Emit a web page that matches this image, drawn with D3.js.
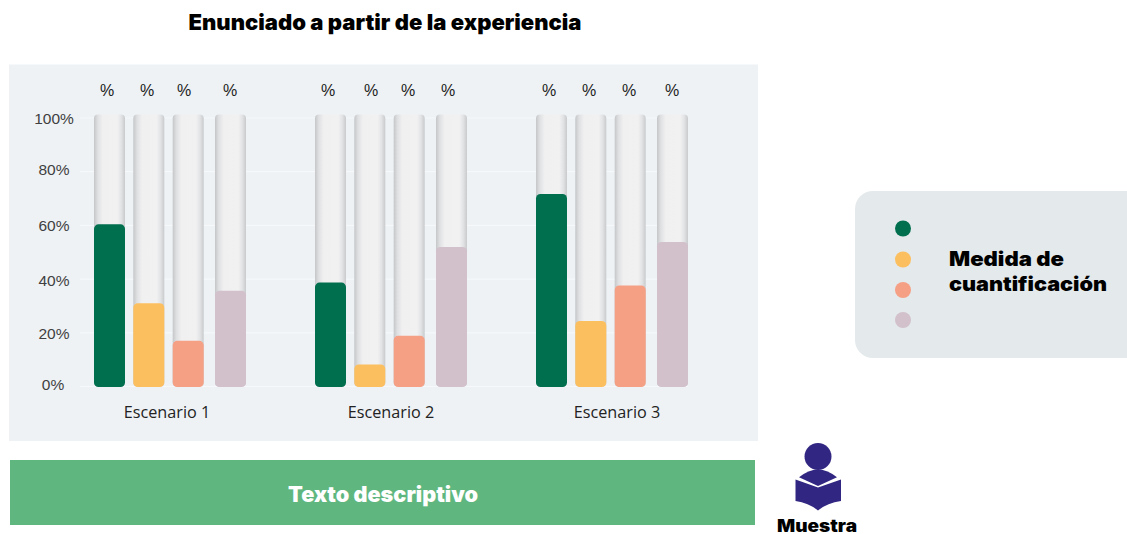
<!DOCTYPE html>
<html><head><meta charset="utf-8">
<script src="https://cdn.jsdelivr.net/npm/d3@7"></script>
<style>html,body{margin:0;padding:0;background:#fff}svg{display:block}</style>
</head><body><svg id="c" width="1127" height="534"></svg>
<script>
const title = "Enunciado a partir de la experiencia";
const scenarios = ["Escenario 1","Escenario 2","Escenario 3"];
const series = ["a","b","c","d"];
const colors = ["#006f4e","#fcbf5f","#f59f85","#d2c0cb"];
const valuesA = [60.4,31,17,35.7];
const valuesB = [38.7,8.2,18.9,52];
const valuesC = [71.7,24.4,37.6,53.8];
const yTicks = [0,20,40,60,80,100];
const labelCaption = ["Medida de","cuantificación"];
const banner = "Texto descriptivo";
const sampleLabel = "Muestra";
const table = [valuesA,valuesB,valuesC];

const svg = d3.select("#c");
const heavy = "'Inter','Noto Sans',sans-serif";
const defs = svg.append("defs");
const g = defs.append("linearGradient").attr("id","track");
[[0,"#c4c6c8"],[.12,"#dfe0e2"],[.28,"#f0f0f1"],[.75,"#f1f1f2"],[.88,"#e2e3e5"],[1,"#c8cacc"]]
 .forEach(s=>g.append("stop").attr("offset",s[0]).attr("stop-color",s[1]));

svg.append("rect").attr("x",9).attr("y",64.5).attr("width",749).attr("height",376.5).attr("fill","#eef2f5");

const y = d3.scaleLinear().domain([0,100]).range([386.5,118]);
const groupX = d3.scalePoint().domain(scenarios).range([94,536]);
const labelX = d3.scalePoint().domain(scenarios).range([167,617]);
const barOffset = d3.scaleOrdinal().domain(series).range([0,39.3,78.7,121]);
const tickNudge = d3.scaleOrdinal().domain(yTicks).range([3.5,6.5,6.5,6,3.5,5.5]);
const pctOffsets = [
  d3.scaleOrdinal().domain(series).range([13,53,90,136]),
  d3.scaleOrdinal().domain(series).range([13,56,93,133]),
  d3.scaleOrdinal().domain(series).range([13,53,93,136])
];
const barW = 31;

// gridlines
svg.append("g").selectAll("line").data(yTicks).join("line")
  .attr("x1",80).attr("x2",688).attr("y1",d=>y(d)).attr("y2",d=>y(d))
  .attr("stroke","#f6f8fa").attr("stroke-width",1.2);
// y labels
svg.append("g").selectAll("text").data(yTicks).join("text")
  .attr("x",d=>d===0?53:54).attr("y",d=>y(d)+tickNudge(d))
  .attr("text-anchor","middle").attr("font-family","'Liberation Sans',sans-serif")
  .attr("font-size",15.5).attr("fill","#3f3f3f").text(d=>d+"%");

const groups = svg.append("g").selectAll("g").data(scenarios).join("g");
groups.each(function(name,i){
  const gg = d3.select(this);
  const x0 = groupX(name);
  const rows = series.map((s,j)=>({s,j,v:table[i][j]}));
  gg.selectAll("rect.t").data(rows).join("rect").attr("class","t")
    .attr("x",d=>x0+barOffset(d.s)).attr("y",y(100)-3.5).attr("width",barW)
    .attr("height",y(0)-y(100)+3.5).attr("rx",4).attr("fill","url(#track)");
  gg.selectAll("rect.v").data(rows).join("rect").attr("class","v")
    .attr("x",d=>x0+barOffset(d.s)).attr("y",d=>y(d.v)).attr("width",barW)
    .attr("height",d=>y(0)-y(d.v)+0.5).attr("rx",4.5).attr("fill",d=>colors[d.j]);
  gg.selectAll("text.p").data(rows).join("text").attr("class","p")
    .attr("x",d=>x0+pctOffsets[i](d.s)).attr("y",96)
    .attr("text-anchor","middle").attr("font-family","'Liberation Sans',sans-serif")
    .attr("font-size",16).attr("fill","#222").text("%");
  gg.append("text").attr("x",labelX(name)-(i===1?1:0)).attr("y",418).attr("text-anchor","middle")
    .attr("font-family","'Open Sans',sans-serif").attr("font-size",16.2).attr("fill","#222").text(name);
});

// title
svg.append("text").attr("x",385).attr("y",30).attr("text-anchor","middle")
  .attr("font-family",heavy).attr("font-weight",900).attr("font-size",21.5)
  .attr("textLength",393).attr("lengthAdjust","spacingAndGlyphs").attr("fill","#000").text(title);

// legend panel
svg.append("rect").attr("x",855).attr("y",191).attr("width",300).attr("height",167).attr("rx",18).attr("fill","#e4e9eb");
const legendY = d3.scaleOrdinal().domain(series).range([228.5,259.5,290,320]);
svg.append("g").selectAll("circle").data(series).join("circle")
  .attr("cx",903).attr("cy",d=>legendY(d)).attr("r",8).attr("fill",(d,i)=>colors[i]);
svg.append("g").selectAll("text").data(labelCaption).join("text")
  .attr("x",949).attr("y",(d,i)=>266+24.5*i)
  .attr("font-family",heavy).attr("font-weight",900).attr("font-size",20)
  .attr("textLength",(d,i)=>i?158:115).attr("lengthAdjust","spacingAndGlyphs").text(d=>d);

// banner
svg.append("rect").attr("x",10).attr("y",460).attr("width",745).attr("height",65).attr("fill","#5fb77f");
svg.append("text").attr("x",383).attr("y",502).attr("text-anchor","middle")
  .attr("font-family",heavy).attr("font-weight",900).attr("font-size",21)
  .attr("textLength",190).attr("lengthAdjust","spacingAndGlyphs").attr("fill","#fff").text(banner);

// icon
const ic = svg.append("g").attr("fill","#312782");
ic.append("circle").attr("cx",818).attr("cy",456.5).attr("r",13.5);
ic.append("path").attr("d","M799 477.3 Q818 461.5 837 477.3 L818 486 Z");
ic.append("path").attr("d","M795.5 479.5 L818 487.5 L841 479.5 L841 501 Q827 503 818 510.5 Q809 503 795.5 501 Z");
svg.append("text").attr("x",817).attr("y",532).attr("text-anchor","middle")
  .attr("font-family",heavy).attr("font-weight",900).attr("font-size",17)
  .attr("textLength",80).attr("lengthAdjust","spacingAndGlyphs").text(sampleLabel);
</script></body></html>
